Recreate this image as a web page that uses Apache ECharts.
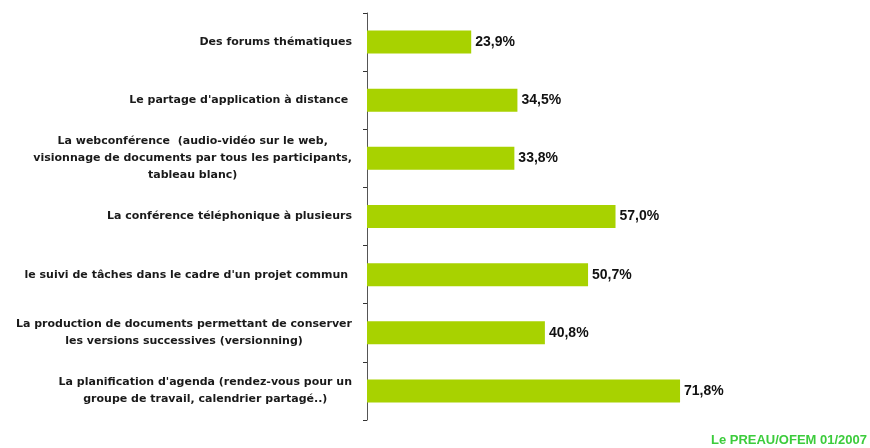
<!DOCTYPE html>
<html>
<head>
<meta charset="utf-8">
<script src="https://cdn.jsdelivr.net/npm/echarts@6/dist/echarts.min.js"></script>
<style>
  html, body { margin: 0; padding: 0; background: #fff; }
  #chart { width: 870px; height: 448px; }
</style>
</head>
<body>
<div id="chart"></div>
<script>
const categories = [
  "Des forums thématiques",
  "Le partage d'application à distance ",
  "La webconférence  (audio-vidéo sur le web,\nvisionnage de documents par tous les participants,\ntableau blanc)",
  "La conférence téléphonique à plusieurs",
  "le suivi de tâches dans le cadre d'un projet commun ",
  "La production de documents permettant de conserver\nles versions successives (versionning)",
  "La planification d'agenda (rendez-vous pour un\ngroupe de travail, calendrier partagé..)"
];
const values = [23.9, 34.5, 33.8, 57.0, 50.7, 40.8, 71.8];
const source = "Le PREAU/OFEM 01/2007";

const font = "'Liberation Sans', Arial, sans-serif";
const labelFont = "'DejaVu Sans', Verdana, sans-serif";

const chart = echarts.init(document.getElementById("chart"));
chart.setOption({
  animation: false,
  grid: { left: 367, right: 67, top: 13, bottom: 28, containLabel: false },
  xAxis: {
    type: "value",
    min: 0,
    max: 100,
    show: false
  },
  yAxis: {
    type: "category",
    inverse: true,
    data: categories,
    axisLine: { show: true, lineStyle: { color: "#555", width: 1 } },
    axisTick: { show: true, length: 4, lineStyle: { color: "#333" } },
    axisLabel: {
      margin: 15,
      color: "#1a1a1a",
      fontFamily: labelFont,
      fontWeight: "bold",
      fontSize: 11,
      lineHeight: 17,
      formatter: (v) => v.split("\n").map((line) => `{c|${line}}`).join("\n"),
      rich: {
        c: { align: "center", fontFamily: labelFont, fontWeight: "bold", fontSize: 11, lineHeight: 17, color: "#1a1a1a" }
      }
    },
    splitLine: { show: false }
  },
  series: [
    {
      type: "bar",
      data: values,
      barWidth: 23,
      itemStyle: { color: "#a8d200" },
      label: {
        show: true,
        position: "right",
        distance: 4,
        color: "#111",
        fontFamily: font,
        fontWeight: "bold",
        fontSize: 14,
        formatter: (p) => p.value.toFixed(1).replace(".", ",") + "%"
      }
    }
  ],
  graphic: [
    {
      type: "text",
      right: 3,
      bottom: 1,
      style: {
        text: source,
        fill: "#3ccc3c",
        font: "bold 13px " + font
      }
    }
  ]
});
</script>
</body>
</html>
